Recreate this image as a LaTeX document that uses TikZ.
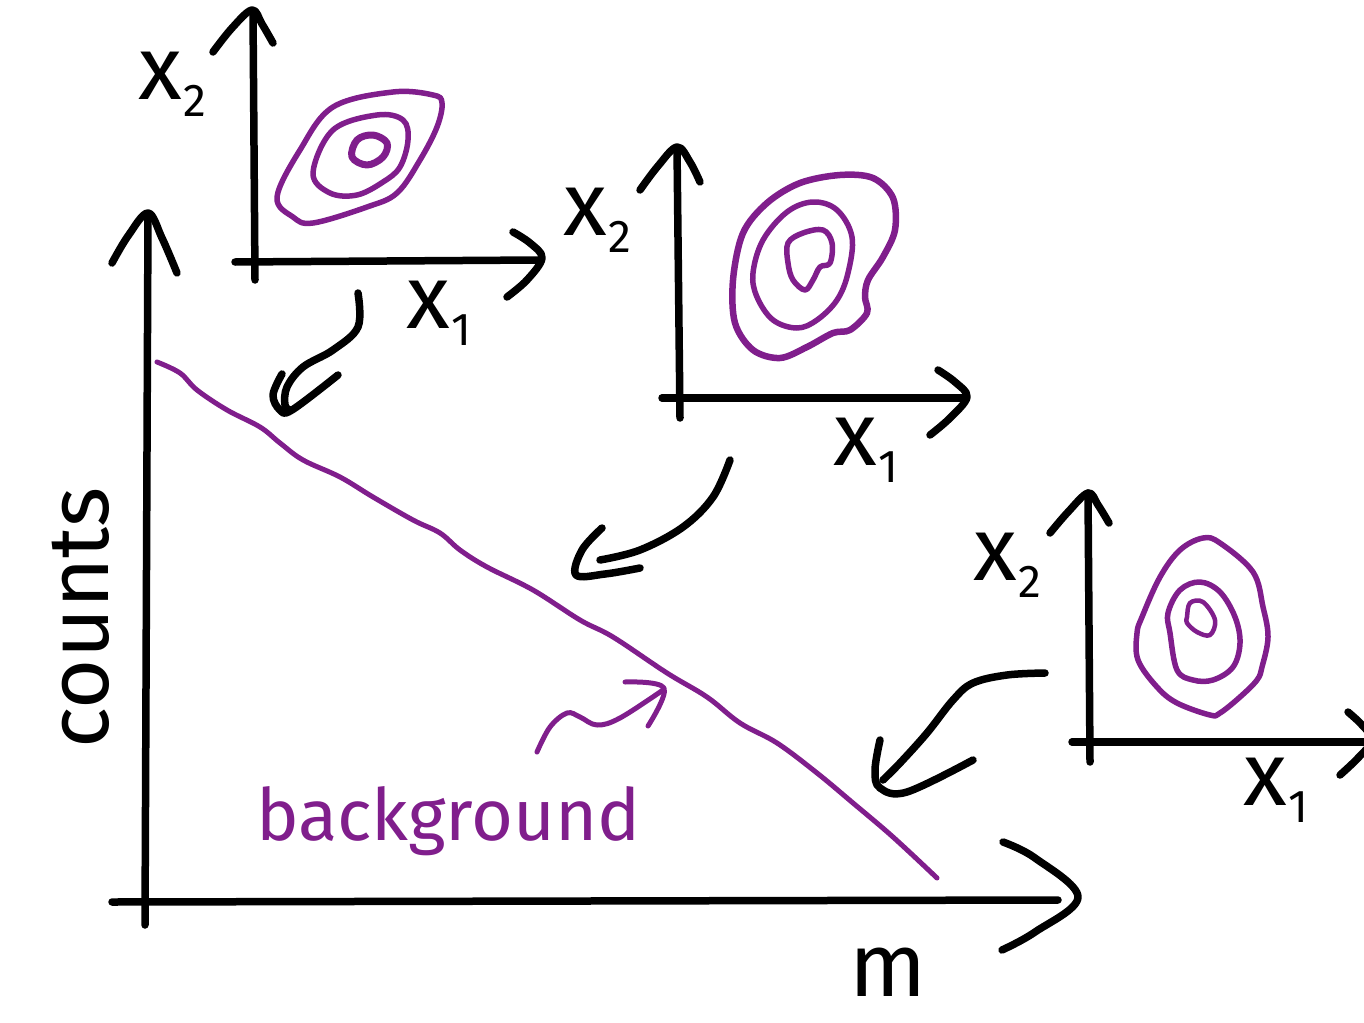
\documentclass[tikz,border=0pt]{standalone}
\usepackage{fontspec}
\setmainfont{Fira Sans}
\definecolor{sketchpurple}{RGB}{128,30,140}
\newcommand{\lowsub}[1]{\hspace{2pt}\raisebox{-17pt}{\fontsize{46}{46}\selectfont #1}}
\begin{document}
\begin{tikzpicture}[x=1pt,y=-1pt,
  ink/.style={line width=7.5pt,line cap=round,line join=round,black},
  contour/.style={line width=5.5pt,line cap=round,line join=round,sketchpurple},
  bgline/.style={line width=5pt,line cap=round,line join=round,sketchpurple},
  axlabel/.style={inner sep=0pt,anchor=base west,font=\fontsize{90}{90}\selectfont},
  hand/.style={smooth,tension=0.6}]
\useasboundingbox (0,0) rectangle (1364,1022);
\clip (0,0) rectangle (1364,1022);

% ---------- main axes ----------
\coordinate (vbot) at (145,925);
\coordinate (vtop) at (148,214);
\coordinate (hleft) at (112,902);
\coordinate (hright) at (1058,900);
\draw[ink] (vbot) -- (vtop);
\draw[ink] plot[hand] coordinates {(112,263) (128,236) (148,213) (162,238) (177,273)};
\draw[ink] (hleft) -- (hright);
\draw[ink] plot[hand] coordinates {(1003,842) (1035,858) (1078,897) (1035,932) (1002,950)};

\node[inner sep=0pt,anchor=base,rotate=90,font=\fontsize{86}{86}\selectfont] (counts) at (108,618) {counts};
\node[inner sep=0pt,anchor=base,font=\fontsize{90}{90}\selectfont] (mlabel) at (888,996) {m};

% background curve
\draw[bgline] plot[hand] coordinates {(157,362) (180,373) (197,390) (227,410) (260,427) (280,443) (303,460) (340,477) (373,497) (413,520) (440,533) (460,550) (487,567) (533,590) (580,620) (613,637) (667,673) (707,697) (740,723) (777,743) (817,773) (853,803) (893,837) (937,878)};
\node[inner sep=0pt,anchor=base west,text=sketchpurple,font=\fontsize{72}{72}\selectfont] (bglabel) at (256,840) {background};
\draw[bgline] plot[hand] coordinates {(537,752) (550,727) (567,713) (580,717) (597,725) (620,718) (663,690)};
\draw[bgline] plot[hand] coordinates {(625,682) (664,688) (648,726)};

% ---------- plot 1 ----------
\draw[ink] (255,280) -- (253,12);
\draw[ink] plot[hand] coordinates {(213,52) (232,28) (252,10) (262,24) (273,43)};
\draw[ink] (235,262) -- (538,260);
\draw[ink] plot[hand] coordinates {(513,232) (530,243) (542,258) (527,280) (507,297)};
\node[axlabel] (p1x2) at (138,100) {x\lowsub{2}};
\node[axlabel] (p1x1) at (406,328) {x\lowsub{1}};
\draw[contour] plot[smooth cycle,tension=0.6] coordinates {(277,197) (300,150) (333,107) (393,92) (433,95) (442,103) (437,127) (420,160) (397,193) (367,207) (313,223) (293,217)};
\draw[contour] plot[smooth cycle,tension=0.6] coordinates {(313,173) (333,130) (377,115) (403,120) (408,140) (400,167) (383,182) (357,195) (330,193)};
\draw[contour,line width=7pt] plot[smooth cycle,tension=0.6] coordinates {(352,157) (357,140) (373,135) (387,143) (383,157) (367,165)};

% ---------- plot 2 ----------
\draw[ink] (680,418) -- (677,148);
\draw[ink] plot[hand] coordinates {(640,190) (658,166) (677,147) (690,162) (700,182)};
\draw[ink] (662,398) -- (965,398);
\draw[ink] plot[hand] coordinates {(938,370) (955,382) (967,397) (950,418) (930,435)};
\node[axlabel] (p2x2) at (563,235) {x\lowsub{2}};
\node[axlabel] (p2x1) at (833,465) {x\lowsub{1}};
\draw[contour,line width=6.5pt] plot[smooth cycle,tension=0.55] coordinates {(735,323) (733,280) (743,233) (767,203) (800,183) (840,175) (873,178) (893,198) (895,230) (883,257) (868,280) (865,297) (867,313) (850,330) (833,333) (807,347) (780,358) (753,350)};
\draw[contour] plot[smooth cycle,tension=0.6] coordinates {(753,273) (763,240) (787,212) (813,202) (837,210) (852,237) (848,273) (837,300) (817,320) (797,328) (773,320) (757,297)};
\draw[contour] plot[smooth cycle,tension=0.6] coordinates {(788,243) (803,233) (823,230) (832,243) (830,263) (820,267) (813,280) (805,290) (793,280) (788,263)};

% ---------- plot 3 ----------
\draw[ink] (1090,762) -- (1088,493);
\draw[ink] plot[hand] coordinates {(1050,533) (1068,512) (1088,493) (1098,505) (1109,523)};
\draw[ink] (1072,742) -- (1370,742);
\draw[ink] plot[hand] coordinates {(1348,712) (1362,725) (1372,740) (1358,758) (1340,775)};
\node[axlabel] (p3x2) at (973,580) {x\lowsub{2}};
\node[axlabel] (p3x1) at (1243,805) {x\lowsub{1}};
\draw[contour] plot[smooth cycle,tension=0.6] coordinates {(1137,633) (1142,617) (1160,577) (1180,550) (1203,538) (1220,543) (1253,572) (1263,607) (1268,637) (1262,667) (1257,680) (1240,697) (1220,713) (1210,715) (1177,703) (1157,687) (1138,660)};
\draw[contour] plot[smooth cycle,tension=0.6] coordinates {(1170,633) (1168,613) (1180,590) (1200,582) (1220,592) (1235,617) (1240,643) (1233,667) (1213,680) (1193,680) (1177,670)};
\draw[contour,line width=4.5pt] plot[smooth cycle,tension=0.6] coordinates {(1187,617) (1190,603) (1203,602) (1215,620) (1210,635) (1197,632) (1187,623)};

% ---------- curved arrows ----------
\draw[ink] plot[hand] coordinates {(358,293) (358,327) (333,350) (303,367) (287,387) (285,405) (290,410)};
\draw[ink] plot[hand] coordinates {(282,374) (273,395) (280,410) (292,410) (338,375)};
\draw[ink] plot[hand] coordinates {(730,460) (713,497) (683,527) (640,550) (600,560)};
\draw[ink] plot[hand] coordinates {(602,528) (582,550) (576,575) (605,574) (640,568)};
\draw[ink] plot[hand] coordinates {(1045,673) (1007,675) (973,683) (953,700) (927,733) (900,763) (883,780)};
\draw[ink] plot[hand] coordinates {(880,740) (875,770) (880,788) (907,792) (973,760)};
\end{tikzpicture}
\end{document}
